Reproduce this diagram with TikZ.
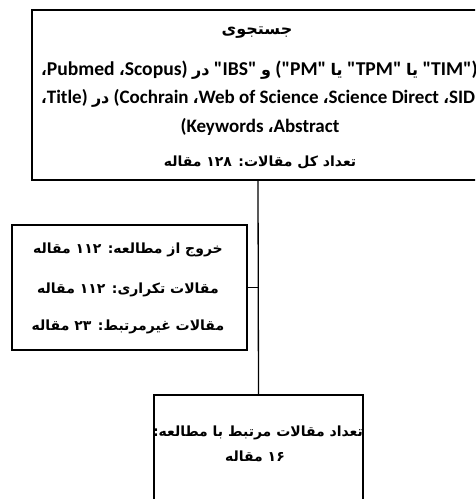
\documentclass[tikz,border=0pt]{standalone}
\usepackage{fontspec}
\setmainfont{Carlito}[Ligatures=TeXOff]
\newfontfamily\ar[Script=Arabic]{DejaVu Sans}
\TeXXeTstate=1
\newcommand{\cm}{{\ar\bfseries\fontsize{15}{18}\selectfont ،}}
\newcommand{\arw}[1]{{\ar\bfseries\fontsize{16}{19}\selectfont #1}}
\tikzset{
  box/.style={draw, line width=1.3pt, inner sep=0pt},
  conn/.style={line width=1.3pt},
  txt/.style={inner sep=0pt, font=\bfseries\fontsize{19}{22}\selectfont},
  artxt/.style={inner sep=0pt, font=\ar\bfseries\fontsize{14}{17}\selectfont},
}
\begin{document}
\begin{tikzpicture}[x=1pt,y=-1pt]
\useasboundingbox (0,0) rectangle (475,499);
\clip (0,0) rectangle (475,499);
\fill[white] (0,0) rectangle (475,499);
% boxes
\node[box, minimum width=452pt, minimum height=170pt] (search) at (258,95) {};
\node[box, minimum width=235pt, minimum height=125pt] (excl) at (129.5,287.5) {};
\node[box, minimum width=209pt, minimum height=111pt] (result) at (258.5,450.5) {};
% connectors
\draw[conn] (search.south) -- (result.north);
\draw[conn] (excl.east) -- (excl.east -| search.south);
% top box text
\node[artxt, font=\ar\bfseries\fontsize{16}{19}\selectfont] (s1) at (257,33) {\beginR جستجوی\endR};
\node[txt, anchor=west, font=\bfseries\fontsize{19.6}{22}\selectfont] (s2) at (41,70) {\cm Pubmed \cm Scopus) \arw{در} "IBS" \arw{و} ("PM" \arw{یا} "TPM" \arw{یا} "TIM")};
\node[txt, anchor=west] (s3) at (41,98) {\cm Title) \arw{در} (Cochrain \cm Web of Science \cm Science Direct \cm SID};
\node[txt] (s4) at (260,127) {(Keywords \cm Abstract};
\node[artxt] (s5) at (260,162) {\beginR تعداد کل مقالات: ۱۲۸ مقاله\endR};
% middle box text
\node[artxt] (e1) at (128,250) {\beginR خروج از مطالعه: ۱۱۲ مقاله\endR};
\node[artxt] (e2) at (128,290) {\beginR مقالات تکراری: ۱۱۲ مقاله\endR};
\node[artxt] (e3) at (128,327) {\beginR مقالات غیرمرتبط: ۲۳ مقاله\endR};
% bottom box text
\node[artxt] (r1) at (258,433) {\beginR تعداد مقالات مرتبط با مطالعه:\endR};
\node[artxt] (r2) at (255,456) {\beginR ۱۶ مقاله\endR};
\end{tikzpicture}
\end{document}
